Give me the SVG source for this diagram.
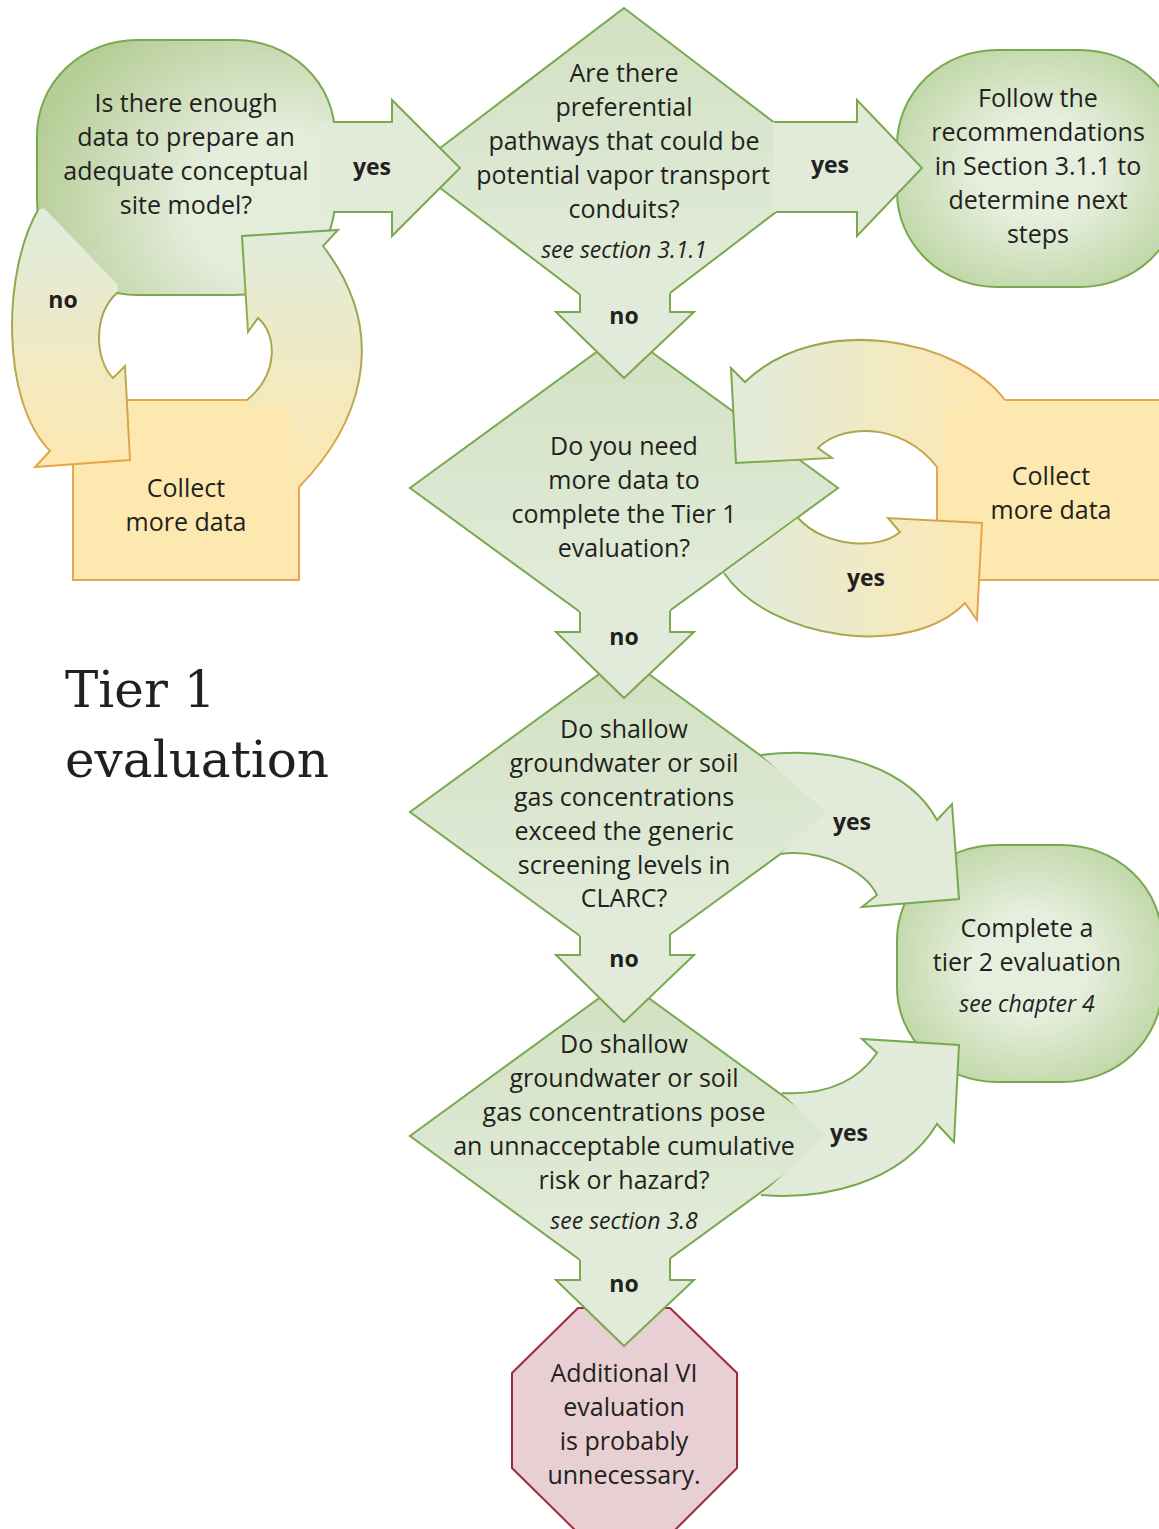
<svg xmlns="http://www.w3.org/2000/svg" width="1159" height="1529" viewBox="0 0 1159 1529">
<defs>
<style>
.t{font-family:"Open Sans","Liberation Sans",sans-serif;font-size:25px;fill:#231f20;text-anchor:middle}
.i{font-style:italic;font-size:23px}
.b{font-weight:bold;font-size:23px}
.gs{stroke:#79a94e;stroke-width:2}
.os{stroke:#e8a54b;stroke-width:2}
.af{fill:#e2ebd9;stroke:none}
.ln{fill:none;stroke-width:2;stroke-linejoin:miter}
.dia{fill:url(#gDia)}
.title{font-family:"DejaVu Serif",serif;font-size:50px;fill:#231f20}
</style>
<linearGradient id="gDia" x1="0" y1="0" x2="0" y2="1"><stop offset="0" stop-color="#d1e1c2"/><stop offset="1" stop-color="#e5edde"/></linearGradient>
<radialGradient id="gRound" cx="0.5" cy="0.5" r="0.62"><stop offset="0.35" stop-color="#e6eedd"/><stop offset="1" stop-color="#b9d39d"/></radialGradient>
<radialGradient id="gA" cx="0.8" cy="0.65" r="0.85"><stop offset="0.35" stop-color="#e4ecda"/><stop offset="1" stop-color="#b5cd96"/></radialGradient>
<linearGradient id="gNoL" gradientUnits="userSpaceOnUse" x1="0" y1="230" x2="0" y2="467"><stop offset="0" stop-color="#e2ebd9"/><stop offset="1" stop-color="#fde8b0"/></linearGradient>
<linearGradient id="gNoLs" gradientUnits="userSpaceOnUse" x1="0" y1="230" x2="0" y2="467"><stop offset="0" stop-color="#79a94e"/><stop offset="1" stop-color="#e8a54b"/></linearGradient>
<linearGradient id="gUpL" gradientUnits="userSpaceOnUse" x1="0" y1="487" x2="0" y2="240"><stop offset="0" stop-color="#fde8b0"/><stop offset="1" stop-color="#e2ebd9"/></linearGradient>
<linearGradient id="gUpLs" gradientUnits="userSpaceOnUse" x1="0" y1="487" x2="0" y2="240"><stop offset="0" stop-color="#e8a54b"/><stop offset="1" stop-color="#79a94e"/></linearGradient>
<linearGradient id="gCR" gradientUnits="userSpaceOnUse" x1="745" y1="0" x2="990" y2="0"><stop offset="0" stop-color="#e2ebd9"/><stop offset="1" stop-color="#fde8b0"/></linearGradient>
<linearGradient id="gCRs" gradientUnits="userSpaceOnUse" x1="745" y1="0" x2="990" y2="0"><stop offset="0" stop-color="#79a94e"/><stop offset="1" stop-color="#e8a54b"/></linearGradient>
</defs>
<rect width="1159" height="1529" fill="#ffffff"/>

<text class="title" x="65" y="707">Tier 1</text>
<text class="title" x="65" y="777">evaluation</text>

<g id="nodeA">
<rect x="37" y="40" width="298" height="255" rx="100" ry="95" fill="url(#gA)" class="gs"/>
<text class="t" x="186" y="112">Is there enough</text>
<text class="t" x="186" y="146">data to prepare an</text>
<text class="t" x="186" y="180">adequate conceptual</text>
<text class="t" x="186" y="214">site model?</text>
</g>
<g id="nodeD">
<rect x="897" y="50" width="283" height="237" rx="100" ry="95" fill="url(#gRound)" class="gs"/>
<text class="t" x="1038" y="107">Follow the</text>
<text class="t" x="1038" y="141">recommendations</text>
<text class="t" x="1038" y="175">in Section 3.1.1 to</text>
<text class="t" x="1038" y="209">determine next</text>
<text class="t" x="1038" y="243">steps</text>
</g>
<g id="nodeH">
<rect x="897" y="845" width="265" height="237" rx="100" ry="95" fill="url(#gRound)" class="gs"/>
<text class="t" x="1027" y="937">Complete a</text>
<text class="t" x="1027" y="971">tier 2 evaluation</text>
<text class="t i" x="1027" y="1012">see chapter 4</text>
</g>
<g id="collectLeft">
<rect x="73" y="400" width="226" height="180" fill="#fde8b0" class="os"/>
<text class="t" x="186" y="497">Collect</text>
<text class="t" x="186" y="531">more data</text>
</g>
<g id="collectRight">
<rect x="937" y="400" width="240" height="180" fill="#fde8b0" class="os"/>
<text class="t" x="1051" y="485">Collect</text>
<text class="t" x="1051" y="519">more data</text>
</g>
<g id="nodeB">
<polygon points="624,8 834,168 624,328 414,168" class="dia gs"/>
<text class="t" x="624" y="82">Are there</text>
<text class="t" x="624" y="116">preferential</text>
<text class="t" x="624" y="150">pathways that could be</text>
<text class="t" x="623" y="184">potential vapor transport</text>
<text class="t" x="624" y="218">conduits?</text>
<text class="t i" x="624" y="258">see section 3.1.1</text>
</g>
<g id="nodeC">
<polygon points="624,332 838,488 624,644 410,488" class="dia gs"/>
<text class="t" x="624" y="455">Do you need</text>
<text class="t" x="624" y="489">more data to</text>
<text class="t" x="624" y="523">complete the Tier 1</text>
<text class="t" x="624" y="557">evaluation?</text>
</g>
<g id="nodeE">
<polygon points="624,656 838,812 624,968 410,812" class="dia gs"/>
<text class="t" x="624" y="738">Do shallow</text>
<text class="t" x="624" y="772">groundwater or soil</text>
<text class="t" x="624" y="806">gas concentrations</text>
<text class="t" x="624" y="840">exceed the generic</text>
<text class="t" x="624" y="874">screening levels in</text>
<text class="t" x="624" y="907">CLARC?</text>
</g>
<g id="nodeF">
<polygon points="624,980 838,1136 624,1292 410,1136" class="dia gs"/>
<text class="t" x="624" y="1053">Do shallow</text>
<text class="t" x="624" y="1087">groundwater or soil</text>
<text class="t" x="624" y="1121">gas concentrations pose</text>
<text class="t" x="624" y="1155">an unnacceptable cumulative</text>
<text class="t" x="624" y="1189">risk or hazard?</text>
<text class="t i" x="624" y="1229">see section 3.8</text>
</g>
<g id="nodeG">
<polygon points="578,1308 670,1308 737,1373 737,1468 672,1533 578,1533 512,1468 512,1373" fill="#e8cfd3" stroke="#9e2a3a" stroke-width="2"/>
<text class="t" x="624" y="1382">Additional VI</text>
<text class="t" x="624" y="1416">evaluation</text>
<text class="t" x="624" y="1450">is probably</text>
<text class="t" x="624" y="1484">unnecessary.</text>
</g>

<g id="connectors">
<!-- A yes -> B -->
<path class="af" d="M318,122 L392,122 L392,100 L460,168 L392,236 L392,212 L318,212 Z"/>
<path class="ln gs" d="M333,122 L392,122 L392,100 L460,168 L392,236 L392,212 L333,212"/>
<!-- B yes -> D -->
<path class="af" d="M773,122 L857,122 L857,100 L922,168 L857,236 L857,212 L773,212 Z"/>
<path class="ln gs" d="M774,122 L857,122 L857,100 L922,168 L857,236 L857,212 L776,212"/>
<!-- B no -> C -->
<path class="af" d="M580,285 L580,312 L556,312 L624,378 L694,312 L670,312 L670,285 Z"/>
<path class="ln gs" d="M580,294 L580,312 L556,312 L624,378 L694,312 L670,312 L670,293"/>
<!-- C no -> E -->
<path class="af" d="M580,600 L580,632 L556,632 L624,698 L694,632 L670,632 L670,600 Z"/>
<path class="ln gs" d="M580,612 L580,632 L556,632 L624,698 L694,632 L670,632 L670,611"/>
<!-- E no -> F -->
<path class="af" d="M580,925 L580,955 L556,955 L624,1022 L694,955 L670,955 L670,925 Z"/>
<path class="ln gs" d="M580,936 L580,955 L556,955 L624,1022 L694,955 L670,955 L670,934"/>
<!-- F no -> G -->
<path class="af" d="M580,1250 L580,1280 L556,1280 L624,1346 L694,1280 L670,1280 L670,1250 Z"/>
<path class="ln gs" d="M580,1260 L580,1280 L556,1280 L624,1346 L694,1280 L670,1280 L670,1258"/>
<!-- A no -> left collect -->
<path fill="url(#gNoL)" d="M38,210 C3,270 0,400 50,451 L35,467 L130,460 L125,366 L113,378 C95,360 92,315 118,292 L118,285 L44,208 Z"/>
<path class="ln" stroke="url(#gNoLs)" d="M38,210 C3,270 0,400 50,451 L35,467 L130,460 L125,366 L113,378 C95,360 92,315 118,292"/>
<!-- left collect -> A -->
<path fill="url(#gUpL)" d="M299,487 C355,430 395,340 323,246 L338,230 L242,236 L248,332 L258,318 C278,335 278,375 247,400 L247,408 L291,408 L291,487 Z"/>
<path class="ln" stroke="url(#gUpLs)" d="M299,487 C355,430 395,340 323,246 L338,230 L242,236 L248,332 L258,318 C278,335 278,375 247,400"/>
<!-- right collect -> C -->
<path fill="url(#gCR)" d="M1005,400 C960,340 820,310 745,382 L731,368 L736,463 L832,458 L818,448 C840,425 900,420 937,467 L945,467 L945,408 L1005,408 Z"/>
<path class="ln" stroke="url(#gCRs)" d="M1005,400 C960,340 820,310 745,382 L731,368 L736,463 L832,458 L818,448 C840,425 900,420 937,467"/>
<!-- C yes -> right collect -->
<path fill="url(#gCR)" d="M724,573 C770,640 910,660 965,603 L977,620 L982,523 L888,518 L900,532 C880,550 825,548 798,518 Z"/>
<path class="ln" stroke="url(#gCRs)" d="M724,573 C770,640 910,660 965,603 L977,620 L982,523 L888,518 L900,532 C880,550 825,548 798,518"/>
<!-- E yes -> H -->
<path class="af" d="M761,755 C840,745 910,770 937,820 L952,804 L959,899 L862,907 L877,895 C865,870 820,848 780,854 L826,812 Z"/>
<path class="ln gs" d="M761,755 C840,745 910,770 937,820 L952,804 L959,899 L862,907 L877,895 C865,870 820,848 780,854"/>
<!-- F yes -> H -->
<path class="af" d="M761,1195 C820,1200 900,1185 937,1124 L954,1142 L959,1045 L862,1039 L877,1053 C855,1085 820,1095 782,1093 L826,1136 Z"/>
<path class="ln gs" d="M761,1195 C820,1200 900,1185 937,1124 L954,1142 L959,1045 L862,1039 L877,1053 C855,1085 820,1095 782,1093"/>
<!-- labels -->
<text class="t b" x="372" y="175">yes</text>
<text class="t b" x="830" y="173">yes</text>
<text class="t b" x="624" y="324">no</text>
<text class="t b" x="63" y="308">no</text>
<text class="t b" x="624" y="645">no</text>
<text class="t b" x="866" y="586">yes</text>
<text class="t b" x="852" y="830">yes</text>
<text class="t b" x="624" y="967">no</text>
<text class="t b" x="849" y="1141">yes</text>
<text class="t b" x="624" y="1292">no</text>
</g>
</svg>
